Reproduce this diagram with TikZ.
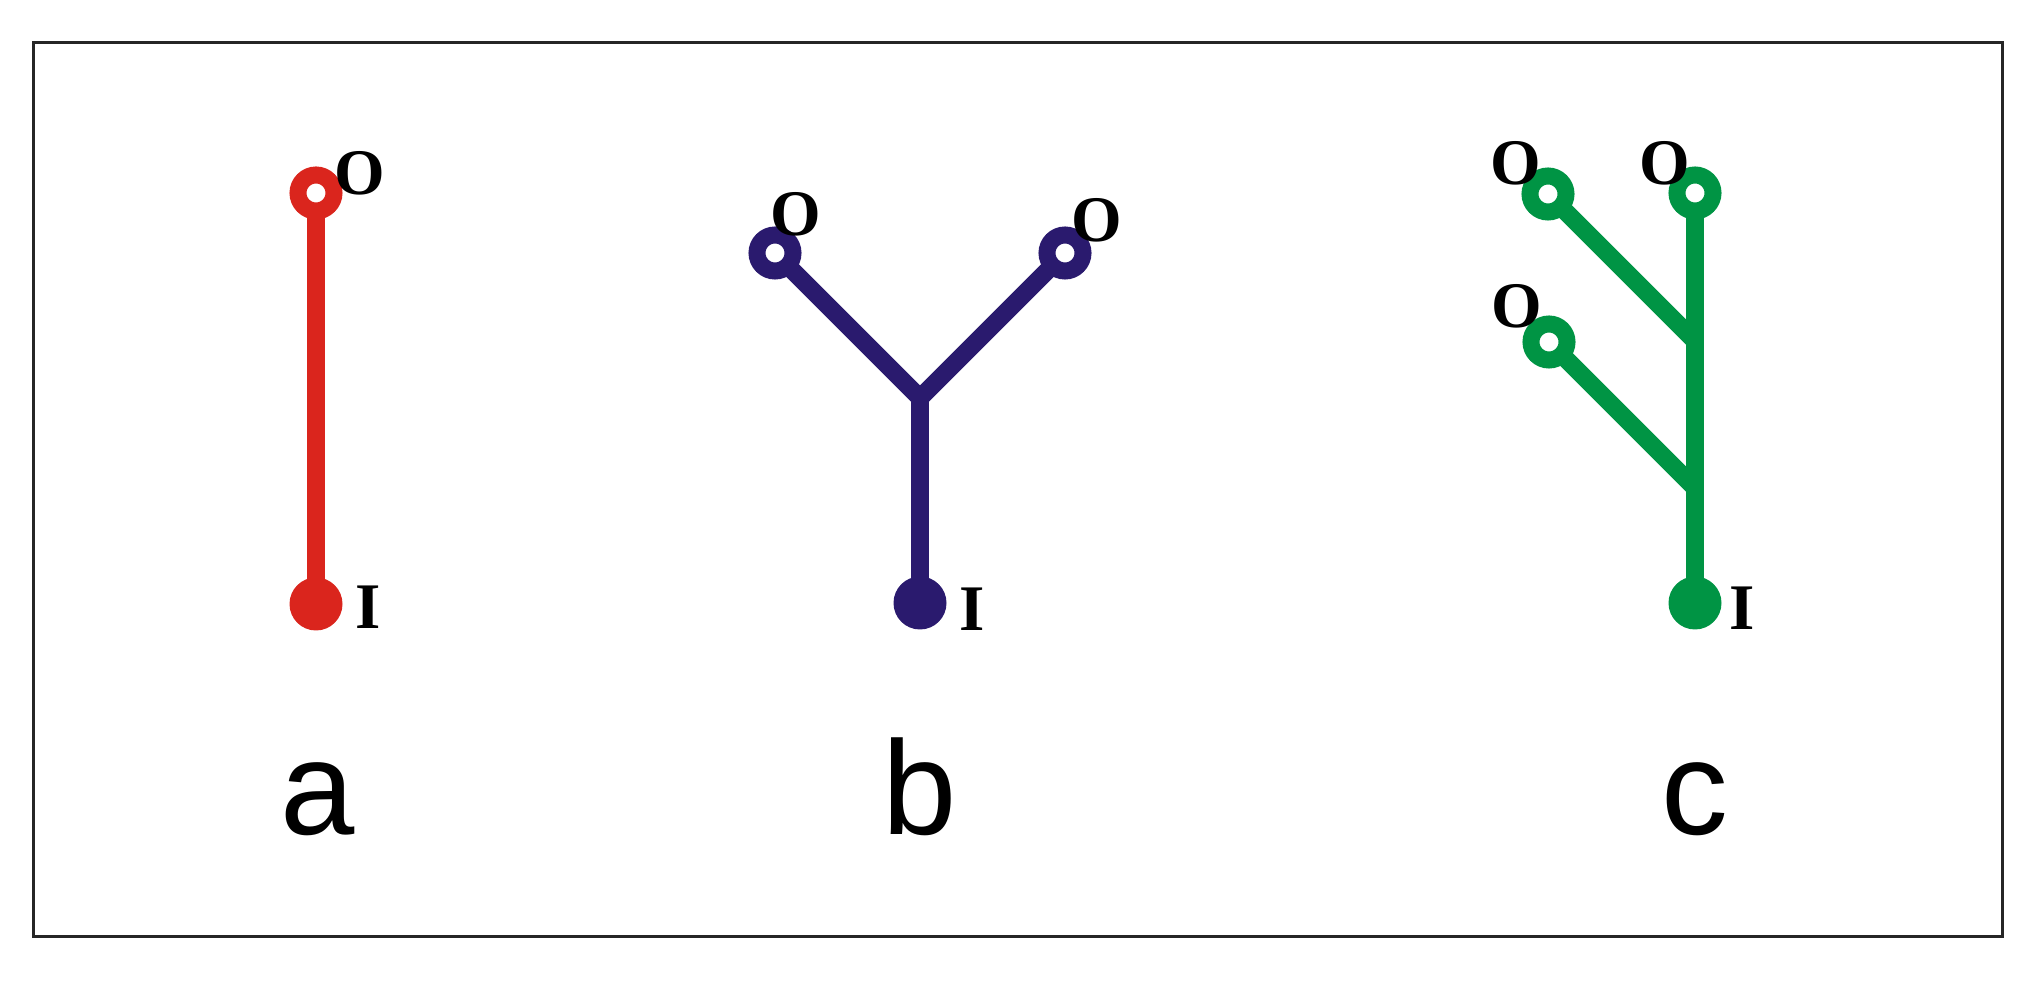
\documentclass[tikz,border=0pt]{standalone}
\usepackage{fontspec}
\setmainfont{Liberation Serif}
\newfontfamily\tagfont{Liberation Sans}
\usepackage{tikz}
\usetikzlibrary{backgrounds}
\usepackage{xcolor}
\definecolor{treered}{RGB}{218,37,29}
\definecolor{treeblue}{RGB}{42,26,110}
\definecolor{treegreen}{RGB}{0,148,68}

\begin{document}
\begin{tikzpicture}[
  ring/.style={draw, circle, fill=white, line width=0.17cm, minimum size=0.36cm, inner sep=0pt, outer sep=0pt},
  dot/.style={circle, minimum size=0.53cm, inner sep=0pt, outer sep=0pt},
  stem/.style={line width=0.18cm, line join=miter},
  io/.style={inner sep=0pt, font=\fontsize{18.5}{20}\selectfont\bfseries},
  tag/.style={inner sep=0pt, anchor=base, font=\fontsize{38}{40}\selectfont\tagfont}]
  \useasboundingbox (0,0) rectangle (20.4,9.84);
  \draw[line width=0.03cm, black!85] (0.33,0.47) rectangle (20.02,9.41);

  % a: one input, one output
  \node[dot, fill=treered] (A0) at (3.16,3.80) {};
  \node[ring, draw=treered] (A1) at (3.16,7.91) {};
  \node[io] (A0i) at (3.68,3.77) {I};
  \node[io] (A1o) at (3.60,8.11) {O};
  \node[tag] (TA) at (3.18,1.49) {a};

  % b: one input, two outputs
  \node[dot, fill=treeblue] (B0) at (9.20,3.81) {};
  \coordinate (BJ) at (9.20,5.86);
  \node[ring, draw=treeblue] (B1) at (7.75,7.31) {};
  \node[ring, draw=treeblue] (B2) at (10.65,7.31) {};
  \node[io] (B0i) at (9.72,3.75) {I};
  \node[io] (B1o) at (7.96,7.70) {O};
  \node[io] (B2o) at (10.97,7.64) {O};
  \node[tag] (TB) at (9.20,1.49) {b};

  % c: one input, three outputs
  \node[dot, fill=treegreen] (C0) at (16.95,3.81) {};
  \node[ring, draw=treegreen] (C1) at (16.95,7.91) {};
  \node[ring, draw=treegreen] (C2) at (15.48,7.90) {};
  \node[ring, draw=treegreen] (C3) at (15.49,6.42) {};
  \coordinate (CJ2) at (16.95,6.43);
  \coordinate (CJ3) at (16.95,4.96);
  \node[io] (C0i) at (17.42,3.76) {I};
  \node[io] (C1o) at (16.65,8.21) {O};
  \node[io] (C2o) at (15.16,8.21) {O};
  \node[io] (C3o) at (15.17,6.78) {O};
  \node[tag] (TC) at (16.95,1.49) {c};

  % stems go under the rings and dots
  \begin{pgfonlayer}{background}
    \draw[stem, treered] (A0.center) -- (A1.center);
    \draw[stem, treeblue] (B1.center) -- (BJ) -- (B2.center);
    \draw[stem, treeblue] (BJ) -- (B0.center);
    \draw[stem, treegreen] (C0.center) -- (C1.center);
    \draw[stem, treegreen] (C2.center) -- (CJ2);
    \draw[stem, treegreen] (C3.center) -- (CJ3);
  \end{pgfonlayer}
\end{tikzpicture}
\end{document}
